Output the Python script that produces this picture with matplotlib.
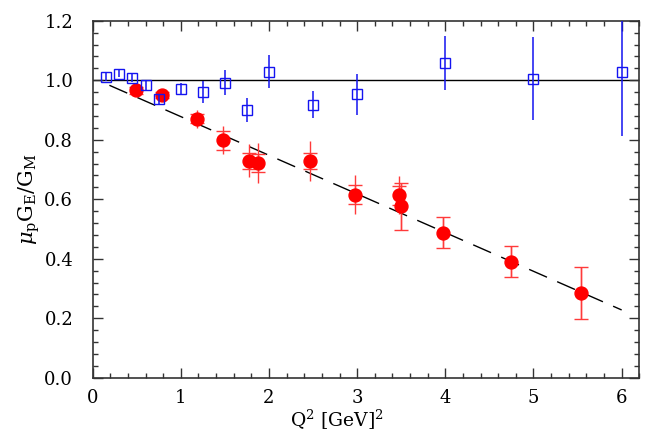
import numpy as np
import matplotlib.pyplot as plt
from matplotlib.ticker import MultipleLocator

# polarization-transfer data (red, filled circles)
red_q2 = [0.49, 0.79, 1.18, 1.48, 1.77, 1.88, 2.47, 2.97, 3.47, 3.50, 3.97, 4.75, 5.54]
red_ratio = [0.966, 0.950, 0.870, 0.799, 0.730, 0.722, 0.729, 0.616, 0.613, 0.576, 0.487, 0.390, 0.285]
red_stat = [0.012, 0.010, 0.015, 0.032, 0.027, 0.030, 0.026, 0.031, 0.033, 0.078, 0.052, 0.052, 0.087]
red_total = [0.020, 0.015, 0.030, 0.047, 0.055, 0.066, 0.068, 0.064, 0.064, 0.078, 0.052, 0.052, 0.087]

# Rosenbluth data (blue, open squares)
blue_q2 = [0.15, 0.30, 0.45, 0.60, 0.75, 1.00, 1.25, 1.50, 1.75, 2.00, 2.50, 3.00, 4.00, 5.00, 6.00]
blue_ratio = [1.011, 1.022, 1.009, 0.983, 0.936, 0.971, 0.962, 0.992, 0.900, 1.029, 0.918, 0.953, 1.057, 1.005, 1.028]
blue_err = [0.012, 0.012, 0.015, 0.015, 0.018, 0.020, 0.037, 0.042, 0.039, 0.055, 0.045, 0.069, 0.090, 0.140, 0.215]

# linear fit to the red points
fit_q2 = [0.19, 6.0]
fit_ratio = [0.983, 0.228]

plt.rcParams['font.family'] = 'DejaVu Serif'
plt.rcParams['mathtext.fontset'] = 'dejavuserif'

fig = plt.figure(figsize=(6.54, 4.41), dpi=100)
ax = fig.add_axes([0.1417, 0.1433, 0.8358, 0.8097])

RED = '#ff0000'
BLUE = '#1414f0'

ax.axhline(1.0, color='black', lw=1.0, zorder=1)
ax.plot(fit_q2, fit_ratio, color='black', lw=1.0, dashes=(14, 8), zorder=2)

# total errors (no caps) then statistical errors (with caps)
ax.errorbar(red_q2, red_ratio, yerr=red_total, fmt='none', ecolor='#ff3a3a',
            elinewidth=1.0, capsize=0, zorder=3)
ax.errorbar(red_q2, red_ratio, yerr=red_stat, fmt='none', ecolor='#ff3a3a',
            elinewidth=1.0, capsize=4.7, capthick=1.0, zorder=3)
ax.plot(red_q2, red_ratio, 'o', color=RED, ms=9.3, mec=RED, zorder=4)

ax.errorbar(blue_q2, blue_ratio, yerr=blue_err, fmt='s', color=BLUE,
            mfc='none', mec=BLUE, ms=7.4, mew=1.0, elinewidth=1.1,
            capsize=0, zorder=5)

ax.set_xlim(0, 6.2)
ax.set_ylim(0, 1.2)
ax.xaxis.set_major_locator(MultipleLocator(1))
ax.xaxis.set_minor_locator(MultipleLocator(0.2))
ax.yaxis.set_major_locator(MultipleLocator(0.2))
ax.yaxis.set_minor_locator(MultipleLocator(0.04))
ax.yaxis.set_major_formatter(lambda v, p: f"{v:.1f}")

ax.tick_params(which='both', direction='in', top=True, right=True,
               color='#333333', labelsize=13)
ax.tick_params(which='major', length=7, width=1.0)
ax.tick_params(which='minor', length=3.5, width=1.0)
ax.tick_params(axis='y', which='major', pad=14)
ax.tick_params(axis='x', which='major', pad=8)
for s in ax.spines.values():
    s.set_color('#333333')
    s.set_linewidth(1.2)

ax.set_xlabel(r'Q$^2$ [GeV]$^2$', fontsize=13.5, labelpad=1, x=0.447)
ax.set_ylabel(r'$\mu_{\rm p}{\rm G}_{\rm E}/{\rm G}_{\rm M}$', fontsize=15, labelpad=2)

fig.savefig('out.png', dpi=100)
